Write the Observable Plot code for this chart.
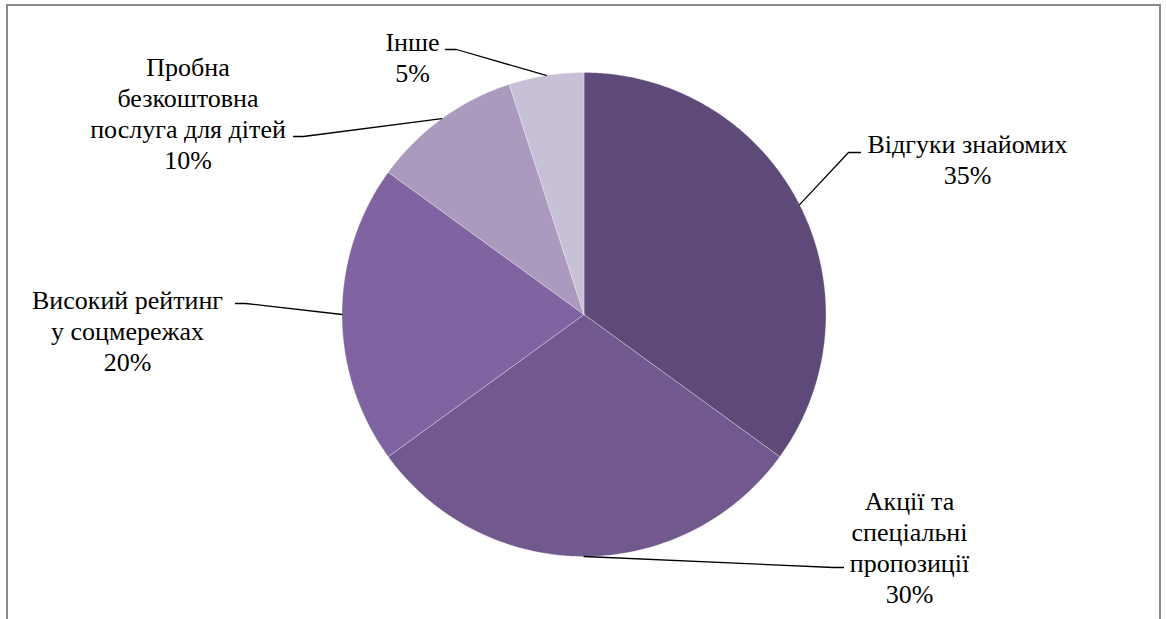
<!DOCTYPE html>
<html>
<head>
<meta charset="utf-8">
<script src="https://cdn.jsdelivr.net/npm/d3@7"></script>
<script src="https://cdn.jsdelivr.net/npm/@observablehq/plot@0.6"></script>
<style>
  html, body { margin: 0; padding: 0; background: #fff; font-family: 'Liberation Serif', serif; }
  #wrap { position: relative; width: 1166px; height: 619px; overflow: hidden; }
  #chart, #labels { position: absolute; left: 0; top: 0; }
  #frame { position: absolute; left: 6px; top: 4px; width: 1151px; height: 640px;
           border: 2px solid #8a8a8a; border-bottom: none; pointer-events: none; }
</style>
</head>
<body>
<div id="wrap"><div id="chart"></div><div id="labels"></div><div id="frame"></div></div>
<script>
// ---- data ----
const categories = ["Відгуки знайомих", "Акції та спеціальні пропозиції", "Високий рейтинг у соцмережах", "Пробна безкоштовна послуга для дітей", "Інше"];
const labelLines = ["Відгуки знайомих", "Акції та\nспеціальні\nпропозиції", "Високий рейтинг\nу соцмережах", "Пробна\nбезкоштовна\nпослуга для дітей", "Інше"];
const values = [35, 30, 20, 10, 5];
const colors = ["#5E4A79", "#71598F", "#8064A2", "#A99ABE", "#C8C0D6"];

// ---- layout (pixels in the 1166x619 page) ----
const W = 1166, H = 619;
const CX = 583.5, CY = 314, R = 242;
const labelPos = [[967, 158], [909, 546], [127, 330], [187.5, 112], [412, 56]];
const leaderTail = [
  [[848, 152], [860, 152]],
  [[833, 567], [843, 567]],
  [[245, 303], [235, 303]],
  [[303, 136], [293, 136]],
  [[456, 49], [445, 49]]
];

const pie = d3.pie().sort(null).startAngle(0).endAngle(2 * Math.PI)(values);
const pt = (a, r) => ({x: CX + r * Math.sin(a), y: CY - r * Math.cos(a)});

const xScale = {type: "linear", domain: [0, W], range: [0, W], axis: null};
const yScale = {type: "linear", domain: [0, H], range: [0, H], axis: null};

const marks = [];
pie.forEach((s, i) => {
  const pts = [{x: CX, y: CY}];
  const n = Math.max(2, Math.ceil((s.endAngle - s.startAngle) / (Math.PI / 360)));
  for (let k = 0; k <= n; k++) pts.push(pt(s.startAngle + (s.endAngle - s.startAngle) * k / n, R));
  pts.push({x: CX, y: CY});
  marks.push(Plot.line(pts, {x: "x", y: "y", fill: colors[i], stroke: "#ffffff", strokeWidth: 0.6, strokeOpacity: 0.5, curve: "linear"}));
});

pie.forEach((s, i) => {
  const mid = (s.startAngle + s.endAngle) / 2;
  const pts = [pt(mid, R), ...leaderTail[i].map(([x, y]) => ({x, y}))];
  marks.push(Plot.line(pts, {x: "x", y: "y", stroke: "#000", strokeWidth: 1.3, curve: "linear"}));
});

const chart = Plot.plot({width: W, height: H, margin: 0, x: xScale, y: yScale, marks});
document.getElementById("chart").appendChild(chart);

const labels = categories.map((c, i) => ({
  x: labelPos[i][0], y: labelPos[i][1],
  text: labelLines[i] + "\n" + values[i] + "%"
}));
const labelSvg = Plot.plot({
  width: W, height: H, margin: 0, x: xScale, y: yScale,
  style: {background: "transparent"},
  marks: [Plot.text(labels, {x: "x", y: "y", text: "text", textAnchor: "middle", lineAnchor: "middle",
    lineHeight: 1.19, fontSize: 26, fill: "#000", fontFamily: "Liberation Serif"})]
});
document.getElementById("labels").appendChild(labelSvg);
</script>
</body>
</html>
